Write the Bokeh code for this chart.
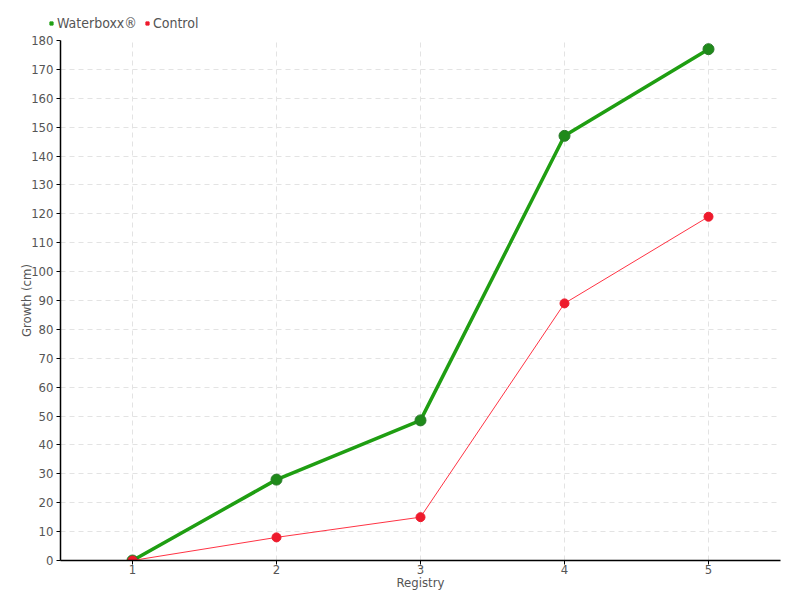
from bokeh.plotting import figure
from bokeh.layouts import column
from bokeh.models import FixedTicker, Legend, LegendItem
from bokeh.embed import file_html
from bokeh.resources import INLINE

registry = [1, 2, 3, 4, 5]
waterboxx = [0, 28, 48.5, 147, 177]
control = [0, 8, 15, 89, 119]
y_ticks = list(range(0, 181, 10))
series_names = ["Waterboxx®", "Control"]

FONT = "'DejaVu Sans Condensed', 'Liberation Sans Narrow', sans-serif"
TXT = "#555555"
GREEN = "#22a016"
RED = "#ee1a2c"

# legend strip on top
lg = figure(width=800, height=32, output_backend="svg", toolbar_location=None,
            x_axis_type=None, y_axis_type=None, x_range=(0, 1), y_range=(0, 1),
            min_border=0)
lg.frame_align = False
lg.outline_line_color = None
lg.grid.visible = False
lw = lg.scatter([None], [None], marker="square", size=7, fill_color=GREEN, line_color=GREEN, visible=False)
lc = lg.scatter([None], [None], marker="square", size=7, fill_color=RED, line_color=RED, visible=False)
legend = Legend(items=[LegendItem(label=series_names[0], renderers=[lw]),
                       LegendItem(label=series_names[1], renderers=[lc])],
                orientation="horizontal", location=(47, 1),
                background_fill_alpha=0, border_line_color=None,
                label_text_font=FONT, label_text_font_size="14px", label_text_color=TXT,
                glyph_width=8, glyph_height=8, spacing=6, label_standoff=2, padding=0, margin=0)
lg.add_layout(legend, "center")

p = figure(width=800, height=568, output_backend="svg", toolbar_location=None,
           x_range=(0.5, 5.5), y_range=(0, 180),
           min_border_left=60, min_border_right=20, min_border_top=8, min_border_bottom=40)
p.frame_align = False
p.outline_line_color = None

p.line(registry, waterboxx, line_color="#1f9e12", line_width=3.5)
p.scatter(registry, waterboxx, size=11, fill_color="#1f8a1a", line_color="#2a7a2a", line_width=1)
p.line(registry, control, line_color="#ff3344", line_width=1)
p.scatter(registry, control, size=9, fill_color=RED, line_color=RED)

p.xaxis.ticker = FixedTicker(ticks=registry)
p.yaxis.ticker = FixedTicker(ticks=y_ticks)
for ax in (p.xaxis[0], p.yaxis[0]):
    ax.axis_line_color = "black"
    ax.axis_line_width = 1.5
    ax.major_tick_line_color = "black"
    ax.major_tick_in = 0
    ax.major_tick_out = 4
    ax.minor_tick_line_color = None
    ax.major_label_text_font = FONT
    ax.major_label_text_font_size = "13px"
    ax.major_label_text_color = TXT
    ax.axis_label_text_font = FONT
    ax.axis_label_text_font_size = "13px"
    ax.axis_label_text_color = TXT
    ax.axis_label_text_font_style = "normal"
p.xaxis.axis_label = "Registry"
p.yaxis.axis_label = "Growth (cm)"
p.xaxis.axis_label_standoff = -2
p.yaxis.axis_label_standoff = -6
p.xaxis.major_label_standoff = 0
p.yaxis.major_label_standoff = 3

p.grid.grid_line_color = "#e3e3e3"
p.grid.grid_line_dash = "5 4"
p.grid.grid_line_width = 1

layout = column(lg, p, spacing=0)
open("out.html", "w").write(file_html(layout, INLINE))
